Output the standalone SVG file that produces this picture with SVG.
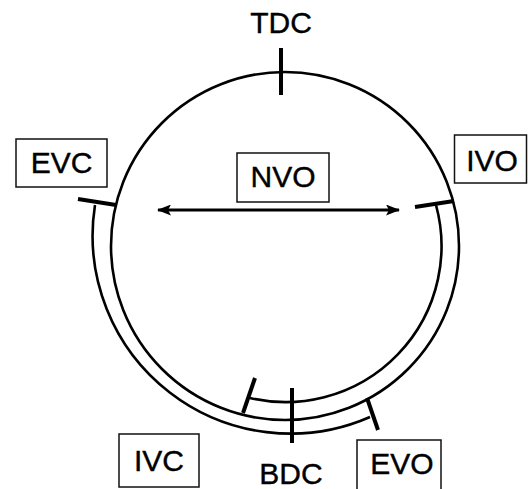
<svg xmlns="http://www.w3.org/2000/svg" width="528" height="489" viewBox="0 0 528 489">
<style>
.lbl{font-family:"Liberation Sans",Arial,sans-serif;font-size:30px;fill:#000;stroke:#000;stroke-width:0.4;text-anchor:middle}
.box{fill:#fff;stroke:#111;stroke-width:1.5}
.ln{fill:none;stroke:#000;stroke-width:2.6}
.tick{stroke:#000;stroke-width:4;stroke-linecap:butt}
</style>
<defs>
<marker id="ah" viewBox="0 0 14 11" refX="13" refY="5.5" markerWidth="14" markerHeight="11" markerUnits="userSpaceOnUse" orient="auto-start-reverse">
<path d="M0,0 L14,5.5 L0,11 L3,5.5 Z" fill="#000"/>
</marker>
</defs>
<g id="cycle">
<circle class="ln" cx="285" cy="246" r="174" stroke-width="3"/>
</g>
<g id="connectors">
<path id="intake-arc" class="ln" d="M436,205 A156,156 0 0 1 250,398"/>
<path id="exhaust-arc" class="ln" d="M95,205 A198,198 0 0 0 370,417"/>
<line x1="158" y1="210" x2="399" y2="210" stroke="#000" stroke-width="2.8" marker-start="url(#ah)" marker-end="url(#ah)"/>
<line class="tick" x1="281" y1="48" x2="281" y2="95"/>
<line class="tick" x1="292" y1="388" x2="292" y2="443"/>
<line class="tick" x1="78" y1="199" x2="116" y2="205"/>
<line class="tick" x1="415" y1="207" x2="454" y2="201"/>
<line class="tick" x1="255" y1="378" x2="243" y2="413"/>
<line class="tick" x1="367" y1="398" x2="378" y2="430"/>
</g>
<g id="TDC"><text class="lbl" x="281" y="33">TDC</text></g>
<g id="BDC"><text class="lbl" x="291" y="484">BDC</text></g>
<g id="EVC"><rect class="box" x="16" y="139" width="91" height="48"/><text class="lbl" x="61.5" y="173">EVC</text></g>
<g id="IVO"><rect class="box" x="454.5" y="135" width="72" height="48"/><text class="lbl" x="492" y="171">IVO</text></g>
<g id="NVO"><rect class="box" x="237" y="153" width="92" height="49"/><text class="lbl" x="283" y="187">NVO</text></g>
<g id="IVC"><rect class="box" x="119" y="434" width="80" height="53"/><text class="lbl" x="159" y="471">IVC</text></g>
<g id="EVO"><rect class="box" x="357" y="440" width="84" height="52"/><text class="lbl" x="402" y="474">EVO</text></g>
</svg>
